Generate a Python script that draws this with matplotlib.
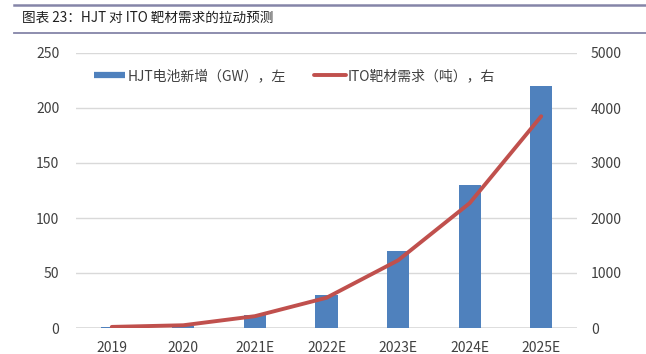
import matplotlib
matplotlib.use("Agg")
import matplotlib.pyplot as plt
from matplotlib.lines import Line2D
import numpy as np

plt.rcParams['font.family'] = ['Noto Sans CJK SC', 'DejaVu Sans']

categories = ["2019", "2020", "2021E", "2022E", "2023E", "2024E", "2025E"]
hjt_gw = [1, 2, 12, 30, 70, 130, 220]
ito_ton = [20, 50, 215, 550, 1230, 2270, 3850]
left_ticks = [0, 50, 100, 150, 200, 250]
right_ticks = [0, 1000, 2000, 3000, 4000, 5000]
title = "图表 23：HJT 对 ITO 靶材需求的拉动预测"
bar_label = "HJT电池新增（GW），左"
line_label = "ITO靶材需求（吨），右"

BLUE = "#4F81BD"
RED = "#C0504D"
TXT = "#404040"

W, H = 646, 354
fig = plt.figure(figsize=(W / 100, H / 100), dpi=100)
ax = fig.add_axes([76 / W, 1 - 328 / H, (577 - 76) / W, (328 - 53) / H])
ax2 = ax.twinx()

x = np.arange(len(categories))
ax.bar(x, hjt_gw, width=0.31, color=BLUE, zorder=2)
ax.set_ylim(0, 250)
ax.set_xlim(-0.5, len(categories) - 0.5)
ax.set_yticks(left_ticks)
ax.set_xticks(x)
ax.set_xticklabels(categories)
ax.yaxis.grid(True, color="#D9D9D9", linewidth=1.0, zorder=0)
ax.set_axisbelow(True)

ax2.plot(x, ito_ton, color=RED, linewidth=2.8, solid_capstyle="round", zorder=3)
ax2.set_ylim(0, 5000)
ax2.set_yticks(right_ticks)

for a in (ax, ax2):
    for s in ("top", "left", "right", "bottom"):
        a.spines[s].set_visible(False)
    a.tick_params(length=0, labelsize=10, colors=TXT)
ax.axhline(0, color="#D9D9D9", linewidth=1.2, zorder=1)
ax.tick_params(axis="y", pad=12)
ax2.tick_params(axis="y", pad=10)
ax.tick_params(axis="x", pad=9)

handles = [Line2D([0], [0], color=BLUE, linewidth=4.5, solid_capstyle="butt"),
           Line2D([0], [0], color=RED, linewidth=2.8, solid_capstyle="round")]
fig.legend(handles, [bar_label, line_label], loc="center left",
           bbox_to_anchor=(81 / W, 1 - 76 / H), ncol=2, frameon=False,
           fontsize=10, handlelength=2.3, handletextpad=0.15, columnspacing=2.0,
           labelcolor=TXT)

fig.text(22 / W, 1 - 18 / H, title, fontsize=9.8, color="#202020",
         va="center", ha="left", fontweight="medium")
fig.add_artist(Line2D([14 / W, 1], [1 - 5 / H, 1 - 5 / H], color="#8585A8", linewidth=1.8))
fig.add_artist(Line2D([14 / W, 1], [1 - 33 / H, 1 - 33 / H], color="#8585A8", linewidth=1.3))

fig.savefig("out.png", dpi=100)
